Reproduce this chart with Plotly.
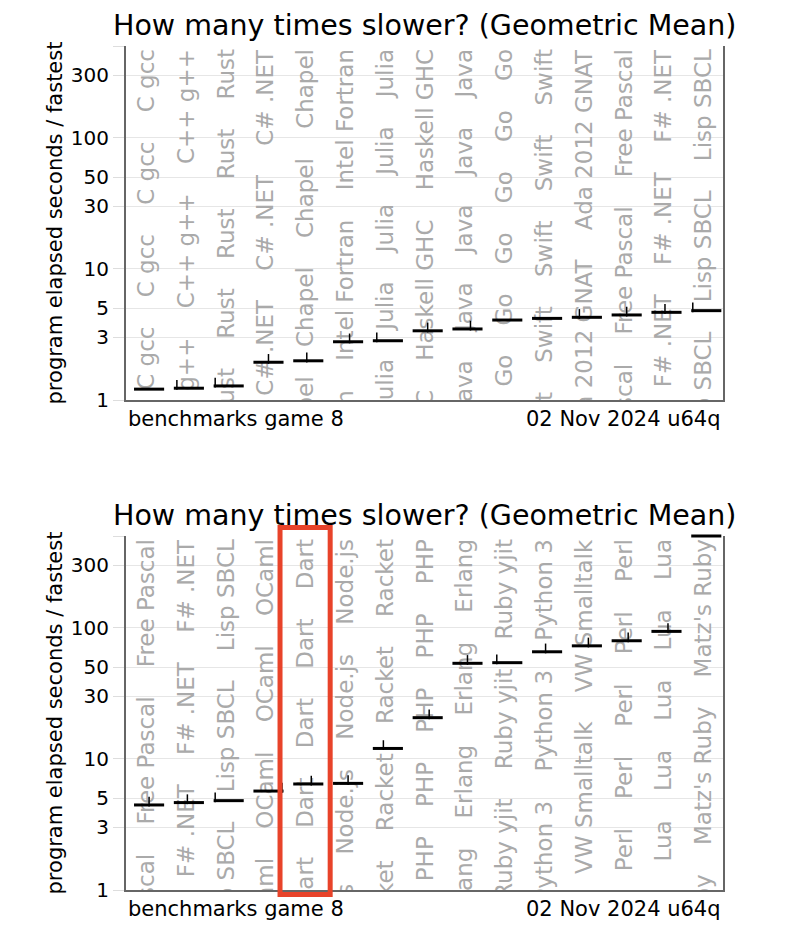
import math
import plotly.graph_objects as go

# ---------------- data ----------------
top_langs = ["C gcc", "C++ g++", "Rust", "C# .NET", "Chapel", "Intel Fortran", "Julia",
             "Haskell GHC", "Java", "Go", "Swift", "Ada 2012 GNAT", "Free Pascal",
             "F# .NET", "Lisp SBCL"]
top_values = [1.21, 1.23, 1.28, 1.94, 1.99, 2.78, 2.83, 3.37, 3.48, 4.07, 4.19, 4.27,
              4.45, 4.66, 4.80]
top_stroke_pos = [None, 0.1, 0.05, 0.5, 0.45, 0.55, 0.13, 0.5, 0.6, None, None, 0.25,
                  0.5, 0.45, 0.05]

bottom_langs = ["Free Pascal", "F# .NET", "Lisp SBCL", "OCaml", "Dart", "Node.js", "Racket",
                "PHP", "Erlang", "Ruby yjit", "Python 3", "VW Smalltalk", "Perl", "Lua",
                "Matz's Ruby"]
bottom_values = [4.45, 4.64, 4.80, 5.68, 6.43, 6.50, 12.0, 20.6, 53.5, 54.1, 65.5, 72.7,
                 79.5, 93.7, 500]
bottom_stroke_pos = [0.5, 0.45, 0.05, 0.95, 0.6, 0.5, 0.35, 0.55, 0.5, 0.15, 0.45, 0.55,
                     0.55, 0.55, 0.95]

tick_vals = [1, 3, 5, 10, 30, 50, 100, 300, 500]
tick_text = ["1", "3", "5", "10", "30", "50", "100", "300", ""]
y_max = 500

title_text = "How many times slower? (Geometric Mean)"
y_title = "program elapsed seconds / fastest"
left_note = "benchmarks game 8"
right_note = "02 Nov 2024 u64q"
highlight = "Dart"

# ---------------- style ----------------
FONT = "DejaVu Sans"
W, H = 800, 934
ML, MR, MT, MB = 126, 77, 46, 44
PLOT_H = H - MT - MB
SUB_H = 354
TEXT_GRAY = "#aaaaaa"
GRID = "#e6e6e6"
AXIS = "#666666"
DASH_OFF = 0.08
DASH_HALF = 0.377

fig = go.Figure()


def add_panel(langs, values, strokes, idx):
    xa = "x" if idx == 1 else "x%d" % idx
    ya = "y" if idx == 1 else "y%d" % idx
    xs = list(range(len(langs)))
    sep = "\u00a0" * 4
    labels = [sep.join([name] * 12) for name in langs]
    # repeated vertical category labels (clipped by plot area)
    fig.add_trace(go.Bar(
        x=xs, y=[y_max - 1] * len(xs), base=[1] * len(xs), width=1,
        text=labels, textposition="inside", insidetextanchor="end",
        textangle=-90, constraintext="none",
        textfont=dict(family=FONT, size=23, color=TEXT_GRAY),
        marker=dict(color="rgba(0,0,0,0)", line=dict(width=0)),
        hoverinfo="skip", showlegend=False, cliponaxis=True,
        xaxis=xa, yaxis=ya))
    # small vertical strokes
    sx, sy = [], []
    for i, (v, p) in enumerate(zip(values, strokes)):
        if p is None:
            continue
        sx.append(i + DASH_OFF + (p - 0.5) * 2 * DASH_HALF)
        sy.append(v * 1.06)
    fig.add_trace(go.Scatter(
        x=sx, y=sy, mode="markers",
        marker=dict(symbol="line-ns", size=7, line=dict(width=1.5, color="black")),
        hoverinfo="skip", showlegend=False, xaxis=xa, yaxis=ya))
    # geometric-mean dashes
    fig.add_trace(go.Scatter(
        x=[i + DASH_OFF for i in xs], y=values, mode="markers",
        marker=dict(symbol="line-ew", size=21.5, line=dict(width=3, color="black")),
        hoverinfo="text", text=langs, showlegend=False, cliponaxis=False,
        xaxis=xa, yaxis=ya))


add_panel(top_langs, top_values, top_stroke_pos, 1)
add_panel(bottom_langs, bottom_values, bottom_stroke_pos, 2)

top_dom = [1 - SUB_H / PLOT_H, 1]
bot_dom = [0, (PLOT_H - (536 - MT)) / PLOT_H]


def yaxis_cfg(dom, anchor):
    return dict(
        type="log", range=[0, math.log10(y_max)], domain=dom, anchor=anchor,
        tickvals=tick_vals, ticktext=tick_text, automargin=False,
        tickfont=dict(family=FONT, size=20, color="black"),
        ticks="outside", ticklen=11, tickcolor="#dddddd", tickwidth=1,
        showgrid=True, gridcolor=GRID, gridwidth=1,
        showline=True, linecolor=AXIS, linewidth=2, mirror=True,
        zeroline=False,
        title=dict(text=y_title, font=dict(family=FONT, size=21, color="black"), standoff=2),
    )


def xaxis_cfg(anchor, n):
    return dict(
        range=[-0.5, n - 0.5], anchor=anchor, domain=[0, 1], automargin=False,
        showticklabels=False, ticks="", showgrid=False, zeroline=False,
        showline=True, linecolor=AXIS, linewidth=2, fixedrange=True,
    )


annotations = []
for dom in (top_dom, bot_dom):
    annotations.append(dict(
        text=title_text, xref="paper", yref="paper", x=0.5, y=dom[1],
        xanchor="center", yanchor="middle", yshift=21, showarrow=False,
        font=dict(family=FONT, size=28.5, color="black")))
    annotations.append(dict(
        text=left_note, xref="paper", yref="paper", x=0, y=dom[0],
        xanchor="left", yanchor="middle", yshift=-19, showarrow=False,
        font=dict(family=FONT, size=21, color="black")))
    annotations.append(dict(
        text=right_note, xref="paper", yref="paper", x=1, y=dom[0],
        xanchor="right", yanchor="middle", yshift=-19, showarrow=False,
        font=dict(family=FONT, size=21, color="black")))

# highlight box around one column of the lower panel
n_bot = len(bottom_langs)
hi = bottom_langs.index(highlight)
pad_cols = 0.13
shapes = [dict(
    type="rect", xref="x2 domain", yref="paper",
    x0=(hi - pad_cols) / n_bot, x1=(hi + 1 + pad_cols) / n_bot,
    y0=bot_dom[0] - 4.5 / PLOT_H, y1=bot_dom[1] + 8.5 / PLOT_H,
    line=dict(color="#E8432A", width=5), fillcolor="rgba(0,0,0,0)", layer="above")]

fig.update_layout(
    template="none",
    width=W, height=H, autosize=False,
    margin=dict(l=ML, r=MR, t=MT, b=MB, autoexpand=False),
    paper_bgcolor="white", plot_bgcolor="white",
    barmode="overlay", showlegend=False,
    xaxis=xaxis_cfg("y", len(top_langs)),
    xaxis2=xaxis_cfg("y2", n_bot),
    yaxis=yaxis_cfg(top_dom, "x"),
    yaxis2=yaxis_cfg(bot_dom, "x2"),
    annotations=annotations, shapes=shapes,
    font=dict(family=FONT, color="black"),
)

fig.write_html("out.html", config={"displayModeBar": False},
               post_script="document.body.style.margin='0';")
